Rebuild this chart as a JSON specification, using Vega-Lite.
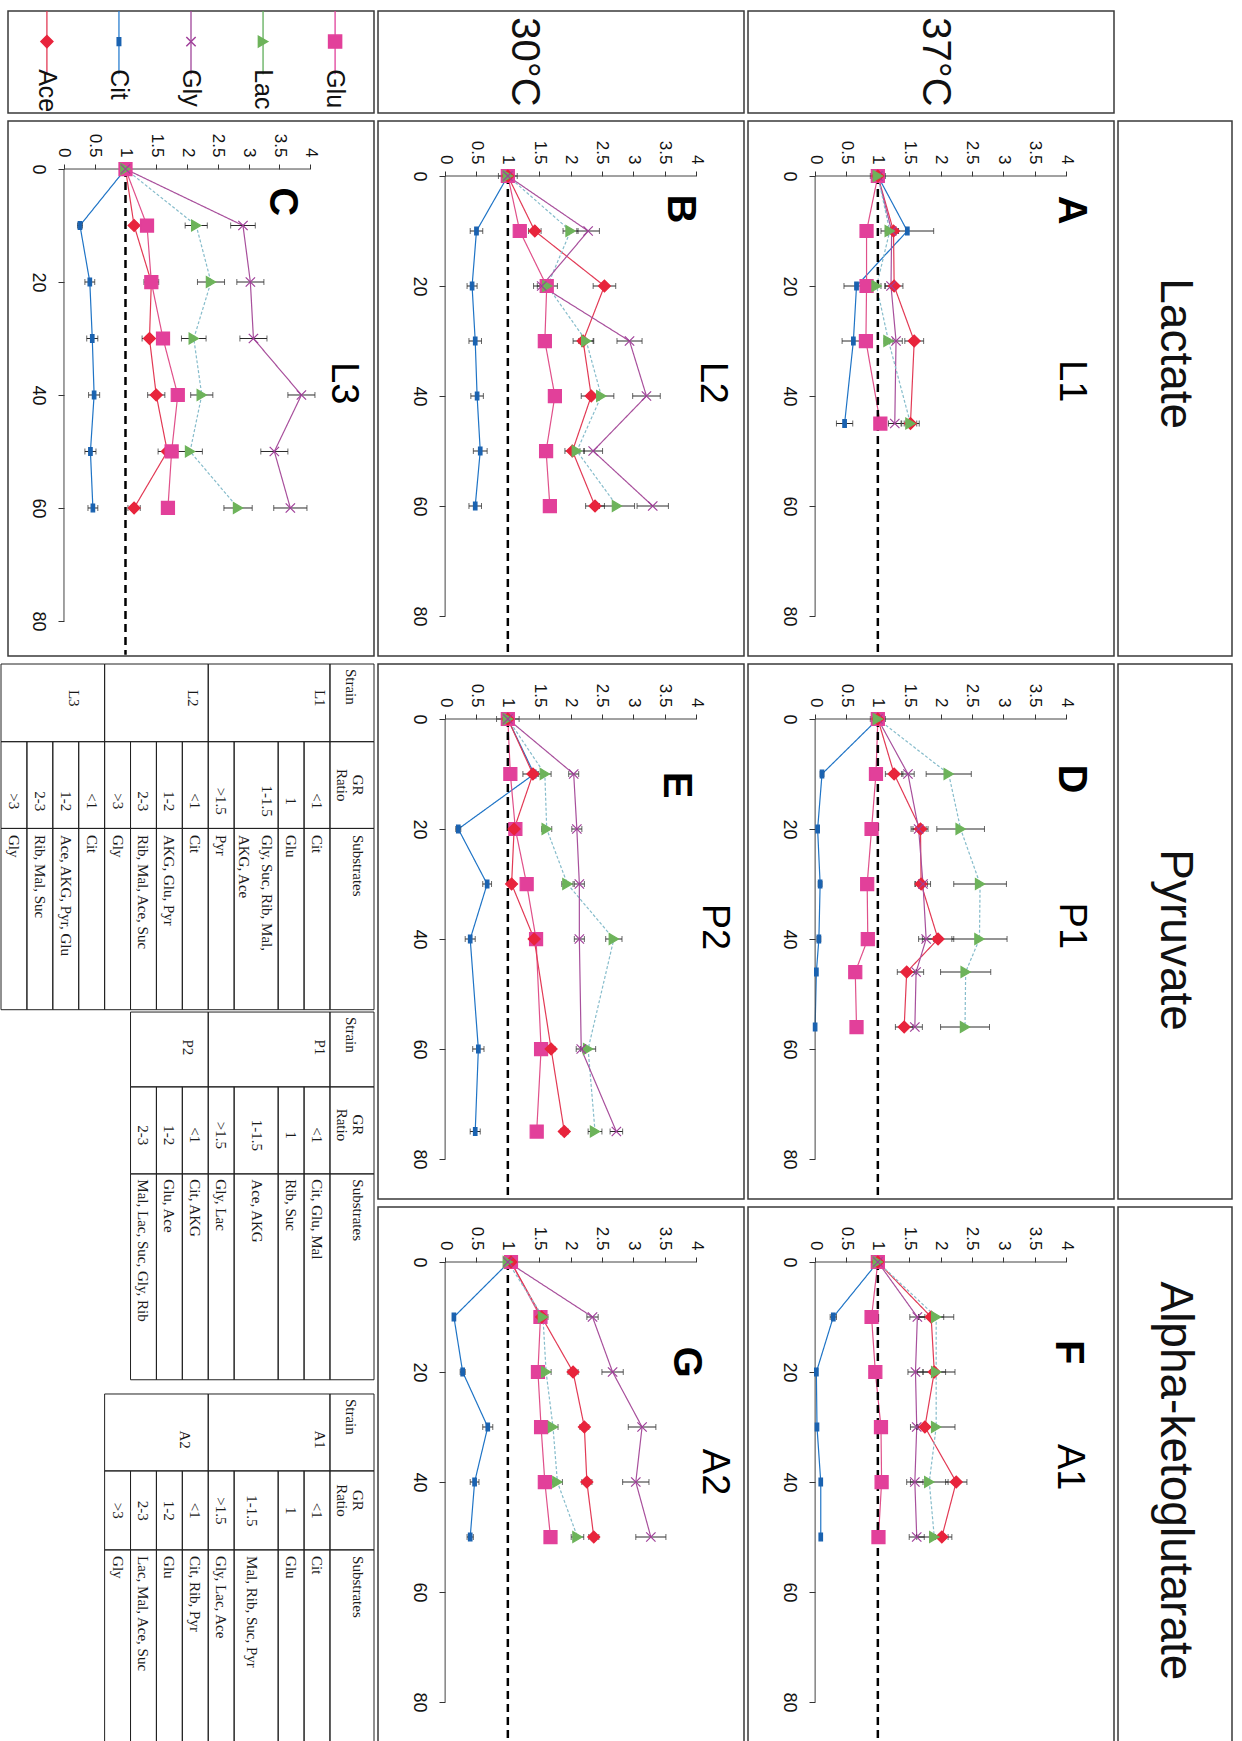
{
"$schema":"https://vega.github.io/schema/vega-lite/v6.json",
"background":"white",
"padding":{"left":0,"top":9,"right":0,"bottom":0},
"bounds":"flush",
"columns":4,
"spacing":{"row":8,"column":4},
"datasets":{
"series":[
{"p":"A","s":"Cit","t":0,"v":1.00,"e":0.08},{"p":"A","s":"Cit","t":10,"v":1.47,"e":0.42},{"p":"A","s":"Cit","t":20,"v":0.66,"e":0.20},{"p":"A","s":"Cit","t":30,"v":0.61,"e":0.18},{"p":"A","s":"Cit","t":45,"v":0.47,"e":0.13},
{"p":"A","s":"Glu","t":0,"v":1.00,"e":0.04},{"p":"A","s":"Glu","t":10,"v":0.82,"e":0.05},{"p":"A","s":"Glu","t":20,"v":0.82,"e":0.05},{"p":"A","s":"Glu","t":30,"v":0.81,"e":0.05},{"p":"A","s":"Glu","t":45,"v":1.04,"e":0.06},
{"p":"A","s":"Ace","t":0,"v":1.00,"e":0.12},{"p":"A","s":"Ace","t":10,"v":1.25,"e":0.08},{"p":"A","s":"Ace","t":20,"v":1.26,"e":0.14},{"p":"A","s":"Ace","t":30,"v":1.58,"e":0.15},{"p":"A","s":"Ace","t":45,"v":1.52,"e":0.14},
{"p":"A","s":"Gly","t":0,"v":1.00,"e":0.10},{"p":"A","s":"Gly","t":10,"v":1.22,"e":0.10},{"p":"A","s":"Gly","t":20,"v":1.21,"e":0.10},{"p":"A","s":"Gly","t":30,"v":1.29,"e":0.10},{"p":"A","s":"Gly","t":45,"v":1.27,"e":0.10},
{"p":"A","s":"Lac","t":0,"v":1.00,"e":0.06},{"p":"A","s":"Lac","t":10,"v":1.19,"e":0.06},{"p":"A","s":"Lac","t":20,"v":0.98,"e":0.07},{"p":"A","s":"Lac","t":30,"v":1.17,"e":0.07},{"p":"A","s":"Lac","t":45,"v":1.52,"e":0.10},
{"p":"B","s":"Cit","t":0,"v":1.00,"e":0.05},{"p":"B","s":"Cit","t":10,"v":0.50,"e":0.10},{"p":"B","s":"Cit","t":20,"v":0.43,"e":0.08},{"p":"B","s":"Cit","t":30,"v":0.48,"e":0.10},{"p":"B","s":"Cit","t":40,"v":0.51,"e":0.10},{"p":"B","s":"Cit","t":50,"v":0.56,"e":0.11},{"p":"B","s":"Cit","t":60,"v":0.48,"e":0.10},
{"p":"B","s":"Glu","t":0,"v":1.00,"e":0.04},{"p":"B","s":"Glu","t":10,"v":1.19,"e":0.04},{"p":"B","s":"Glu","t":20,"v":1.62,"e":0.05},{"p":"B","s":"Glu","t":30,"v":1.59,"e":0.04},{"p":"B","s":"Glu","t":40,"v":1.75,"e":0.04},{"p":"B","s":"Glu","t":50,"v":1.61,"e":0.04},{"p":"B","s":"Glu","t":60,"v":1.67,"e":0.04},
{"p":"B","s":"Ace","t":0,"v":1.00,"e":0.05},{"p":"B","s":"Ace","t":10,"v":1.43,"e":0.10},{"p":"B","s":"Ace","t":20,"v":2.54,"e":0.18},{"p":"B","s":"Ace","t":30,"v":2.20,"e":0.16},{"p":"B","s":"Ace","t":40,"v":2.33,"e":0.16},{"p":"B","s":"Ace","t":50,"v":2.03,"e":0.12},{"p":"B","s":"Ace","t":60,"v":2.39,"e":0.15},
{"p":"B","s":"Lac","t":0,"v":1.00,"e":0.08},{"p":"B","s":"Lac","t":10,"v":2.00,"e":0.12},{"p":"B","s":"Lac","t":20,"v":1.63,"e":0.16},{"p":"B","s":"Lac","t":30,"v":2.25,"e":0.12},{"p":"B","s":"Lac","t":40,"v":2.49,"e":0.20},{"p":"B","s":"Lac","t":50,"v":2.10,"e":0.12},{"p":"B","s":"Lac","t":60,"v":2.74,"e":0.28},
{"p":"B","s":"Gly","t":0,"v":1.00,"e":0.15},{"p":"B","s":"Gly","t":10,"v":2.28,"e":0.18},{"p":"B","s":"Gly","t":20,"v":1.54,"e":0.13},{"p":"B","s":"Gly","t":30,"v":2.94,"e":0.20},{"p":"B","s":"Gly","t":40,"v":3.21,"e":0.22},{"p":"B","s":"Gly","t":50,"v":2.36,"e":0.15},{"p":"B","s":"Gly","t":60,"v":3.31,"e":0.25},
{"p":"C","s":"Cit","t":0,"v":1.00,"e":0.05},{"p":"C","s":"Cit","t":10,"v":0.26,"e":0.04},{"p":"C","s":"Cit","t":20,"v":0.42,"e":0.08},{"p":"C","s":"Cit","t":30,"v":0.46,"e":0.09},{"p":"C","s":"Cit","t":40,"v":0.49,"e":0.09},{"p":"C","s":"Cit","t":50,"v":0.43,"e":0.09},{"p":"C","s":"Cit","t":60,"v":0.47,"e":0.08},
{"p":"C","s":"Ace","t":0,"v":1.00,"e":0.08},{"p":"C","s":"Ace","t":10,"v":1.14,"e":0.05},{"p":"C","s":"Ace","t":20,"v":1.42,"e":0.12},{"p":"C","s":"Ace","t":30,"v":1.39,"e":0.12},{"p":"C","s":"Ace","t":40,"v":1.50,"e":0.14},{"p":"C","s":"Ace","t":50,"v":1.68,"e":0.15},{"p":"C","s":"Ace","t":60,"v":1.14,"e":0.10},
{"p":"C","s":"Glu","t":0,"v":1.00,"e":0.04},{"p":"C","s":"Glu","t":10,"v":1.35,"e":0.05},{"p":"C","s":"Glu","t":20,"v":1.42,"e":0.05},{"p":"C","s":"Glu","t":30,"v":1.61,"e":0.05},{"p":"C","s":"Glu","t":40,"v":1.85,"e":0.05},{"p":"C","s":"Glu","t":50,"v":1.75,"e":0.05},{"p":"C","s":"Glu","t":60,"v":1.69,"e":0.05},
{"p":"C","s":"Lac","t":0,"v":1.00,"e":0.05},{"p":"C","s":"Lac","t":10,"v":2.15,"e":0.18},{"p":"C","s":"Lac","t":20,"v":2.39,"e":0.22},{"p":"C","s":"Lac","t":30,"v":2.11,"e":0.20},{"p":"C","s":"Lac","t":40,"v":2.24,"e":0.18},{"p":"C","s":"Lac","t":50,"v":2.05,"e":0.20},{"p":"C","s":"Lac","t":60,"v":2.83,"e":0.23},
{"p":"C","s":"Gly","t":0,"v":1.00,"e":0.05},{"p":"C","s":"Gly","t":10,"v":2.91,"e":0.20},{"p":"C","s":"Gly","t":20,"v":3.03,"e":0.22},{"p":"C","s":"Gly","t":30,"v":3.08,"e":0.22},{"p":"C","s":"Gly","t":40,"v":3.86,"e":0.22},{"p":"C","s":"Gly","t":50,"v":3.42,"e":0.22},{"p":"C","s":"Gly","t":60,"v":3.68,"e":0.27},
{"p":"D","s":"Cit","t":0,"v":1.00,"e":0.12},{"p":"D","s":"Cit","t":10,"v":0.11,"e":0.03},{"p":"D","s":"Cit","t":20,"v":0.04,"e":0.02},{"p":"D","s":"Cit","t":30,"v":0.08,"e":0.03},{"p":"D","s":"Cit","t":40,"v":0.06,"e":0.03},{"p":"D","s":"Cit","t":46,"v":0.02,"e":0.01},{"p":"D","s":"Cit","t":56,"v":0.00,"e":0.01},
{"p":"D","s":"Glu","t":0,"v":1.00,"e":0.05},{"p":"D","s":"Glu","t":10,"v":0.97,"e":0.04},{"p":"D","s":"Glu","t":20,"v":0.90,"e":0.04},{"p":"D","s":"Glu","t":30,"v":0.83,"e":0.04},{"p":"D","s":"Glu","t":40,"v":0.84,"e":0.04},{"p":"D","s":"Glu","t":46,"v":0.64,"e":0.04},{"p":"D","s":"Glu","t":56,"v":0.66,"e":0.04},
{"p":"D","s":"Ace","t":0,"v":1.00,"e":0.05},{"p":"D","s":"Ace","t":10,"v":1.26,"e":0.14},{"p":"D","s":"Ace","t":20,"v":1.68,"e":0.12},{"p":"D","s":"Ace","t":30,"v":1.69,"e":0.10},{"p":"D","s":"Ace","t":40,"v":1.96,"e":0.25},{"p":"D","s":"Ace","t":46,"v":1.46,"e":0.15},{"p":"D","s":"Ace","t":56,"v":1.42,"e":0.14},
{"p":"D","s":"Gly","t":0,"v":1.00,"e":0.10},{"p":"D","s":"Gly","t":10,"v":1.48,"e":0.10},{"p":"D","s":"Gly","t":20,"v":1.65,"e":0.12},{"p":"D","s":"Gly","t":30,"v":1.72,"e":0.12},{"p":"D","s":"Gly","t":40,"v":1.77,"e":0.12},{"p":"D","s":"Gly","t":46,"v":1.61,"e":0.12},{"p":"D","s":"Gly","t":56,"v":1.59,"e":0.12},
{"p":"D","s":"Lac","t":0,"v":1.00,"e":0.05},{"p":"D","s":"Lac","t":10,"v":2.13,"e":0.36},{"p":"D","s":"Lac","t":20,"v":2.32,"e":0.38},{"p":"D","s":"Lac","t":30,"v":2.63,"e":0.42},{"p":"D","s":"Lac","t":40,"v":2.62,"e":0.44},{"p":"D","s":"Lac","t":46,"v":2.40,"e":0.40},{"p":"D","s":"Lac","t":56,"v":2.39,"e":0.39},
{"p":"E","s":"Cit","t":0,"v":1.00,"e":0.06},{"p":"E","s":"Cit","t":10,"v":1.42,"e":0.05},{"p":"E","s":"Cit","t":20,"v":0.21,"e":0.04},{"p":"E","s":"Cit","t":30,"v":0.67,"e":0.07},{"p":"E","s":"Cit","t":40,"v":0.40,"e":0.08},{"p":"E","s":"Cit","t":60,"v":0.53,"e":0.09},{"p":"E","s":"Cit","t":75,"v":0.48,"e":0.08},
{"p":"E","s":"Glu","t":0,"v":1.00,"e":0.04},{"p":"E","s":"Glu","t":10,"v":1.04,"e":0.04},{"p":"E","s":"Glu","t":20,"v":1.12,"e":0.05},{"p":"E","s":"Glu","t":30,"v":1.30,"e":0.04},{"p":"E","s":"Glu","t":40,"v":1.45,"e":0.05},{"p":"E","s":"Glu","t":60,"v":1.53,"e":0.05},{"p":"E","s":"Glu","t":75,"v":1.46,"e":0.05},
{"p":"E","s":"Ace","t":0,"v":1.00,"e":0.18},{"p":"E","s":"Ace","t":10,"v":1.40,"e":0.16},{"p":"E","s":"Ace","t":20,"v":1.10,"e":0.05},{"p":"E","s":"Ace","t":30,"v":1.06,"e":0.05},{"p":"E","s":"Ace","t":40,"v":1.42,"e":0.05},{"p":"E","s":"Ace","t":60,"v":1.69,"e":0.06},{"p":"E","s":"Ace","t":75,"v":1.90,"e":0.06},
{"p":"E","s":"Lac","t":0,"v":1.00,"e":0.05},{"p":"E","s":"Lac","t":10,"v":1.59,"e":0.10},{"p":"E","s":"Lac","t":20,"v":1.62,"e":0.08},{"p":"E","s":"Lac","t":30,"v":1.95,"e":0.09},{"p":"E","s":"Lac","t":40,"v":2.69,"e":0.13},{"p":"E","s":"Lac","t":60,"v":2.28,"e":0.12},{"p":"E","s":"Lac","t":75,"v":2.39,"e":0.11},
{"p":"E","s":"Gly","t":0,"v":1.00,"e":0.05},{"p":"E","s":"Gly","t":10,"v":2.05,"e":0.08},{"p":"E","s":"Gly","t":20,"v":2.10,"e":0.08},{"p":"E","s":"Gly","t":30,"v":2.14,"e":0.08},{"p":"E","s":"Gly","t":40,"v":2.14,"e":0.08},{"p":"E","s":"Gly","t":60,"v":2.17,"e":0.08},{"p":"E","s":"Gly","t":75,"v":2.73,"e":0.10},
{"p":"F","s":"Cit","t":0,"v":1.00,"e":0.10},{"p":"F","s":"Cit","t":10,"v":0.29,"e":0.05},{"p":"F","s":"Cit","t":20,"v":0.02,"e":0.01},{"p":"F","s":"Cit","t":30,"v":0.03,"e":0.01},{"p":"F","s":"Cit","t":40,"v":0.09,"e":0.01},{"p":"F","s":"Cit","t":50,"v":0.09,"e":0.01},
{"p":"F","s":"Glu","t":0,"v":1.00,"e":0.03},{"p":"F","s":"Glu","t":10,"v":0.90,"e":0.04},{"p":"F","s":"Glu","t":20,"v":0.96,"e":0.03},{"p":"F","s":"Glu","t":30,"v":1.05,"e":0.03},{"p":"F","s":"Glu","t":40,"v":1.06,"e":0.03},{"p":"F","s":"Glu","t":50,"v":1.01,"e":0.04},
{"p":"F","s":"Ace","t":0,"v":1.00,"e":0.05},{"p":"F","s":"Ace","t":10,"v":1.85,"e":0.20},{"p":"F","s":"Ace","t":20,"v":1.90,"e":0.18},{"p":"F","s":"Ace","t":30,"v":1.75,"e":0.13},{"p":"F","s":"Ace","t":40,"v":2.25,"e":0.17},{"p":"F","s":"Ace","t":50,"v":2.02,"e":0.10},
{"p":"F","s":"Lac","t":0,"v":1.00,"e":0.05},{"p":"F","s":"Lac","t":10,"v":1.93,"e":0.28},{"p":"F","s":"Lac","t":20,"v":1.93,"e":0.30},{"p":"F","s":"Lac","t":30,"v":1.93,"e":0.30},{"p":"F","s":"Lac","t":40,"v":1.82,"e":0.30},{"p":"F","s":"Lac","t":50,"v":1.90,"e":0.28},
{"p":"F","s":"Gly","t":0,"v":1.00,"e":0.05},{"p":"F","s":"Gly","t":10,"v":1.63,"e":0.12},{"p":"F","s":"Gly","t":20,"v":1.60,"e":0.12},{"p":"F","s":"Gly","t":30,"v":1.62,"e":0.10},{"p":"F","s":"Gly","t":40,"v":1.59,"e":0.13},{"p":"F","s":"Gly","t":50,"v":1.62,"e":0.12},
{"p":"G","s":"Cit","t":0,"v":1.02,"e":0.05},{"p":"G","s":"Cit","t":10,"v":0.14,"e":0.02},{"p":"G","s":"Cit","t":20,"v":0.28,"e":0.04},{"p":"G","s":"Cit","t":30,"v":0.68,"e":0.08},{"p":"G","s":"Cit","t":40,"v":0.47,"e":0.07},{"p":"G","s":"Cit","t":50,"v":0.40,"e":0.05},
{"p":"G","s":"Glu","t":0,"v":1.05,"e":0.03},{"p":"G","s":"Glu","t":10,"v":1.52,"e":0.05},{"p":"G","s":"Glu","t":20,"v":1.48,"e":0.05},{"p":"G","s":"Glu","t":30,"v":1.53,"e":0.05},{"p":"G","s":"Glu","t":40,"v":1.59,"e":0.05},{"p":"G","s":"Glu","t":50,"v":1.68,"e":0.04},
{"p":"G","s":"Ace","t":0,"v":1.05,"e":0.05},{"p":"G","s":"Ace","t":10,"v":1.54,"e":0.08},{"p":"G","s":"Ace","t":20,"v":2.04,"e":0.08},{"p":"G","s":"Ace","t":30,"v":2.22,"e":0.07},{"p":"G","s":"Ace","t":40,"v":2.26,"e":0.08},{"p":"G","s":"Ace","t":50,"v":2.37,"e":0.08},
{"p":"G","s":"Lac","t":0,"v":1.00,"e":0.05},{"p":"G","s":"Lac","t":10,"v":1.56,"e":0.08},{"p":"G","s":"Lac","t":20,"v":1.61,"e":0.08},{"p":"G","s":"Lac","t":30,"v":1.72,"e":0.08},{"p":"G","s":"Lac","t":40,"v":1.79,"e":0.08},{"p":"G","s":"Lac","t":50,"v":2.11,"e":0.10},
{"p":"G","s":"Gly","t":0,"v":1.00,"e":0.05},{"p":"G","s":"Gly","t":10,"v":2.35,"e":0.09},{"p":"G","s":"Gly","t":20,"v":2.67,"e":0.17},{"p":"G","s":"Gly","t":30,"v":3.14,"e":0.22},{"p":"G","s":"Gly","t":40,"v":3.04,"e":0.21},{"p":"G","s":"Gly","t":50,"v":3.28,"e":0.24}
],
"panels":[
{"p":"A","letter":"A","strain":"L1"},{"p":"B","letter":"B","strain":"L2"},{"p":"C","letter":"C","strain":"L3"},{"p":"D","letter":"D","strain":"P1"},{"p":"E","letter":"E","strain":"P2"},{"p":"F","letter":"F","strain":"A1"},{"p":"G","letter":"G","strain":"A2"}
],
"legend":[{"s":"Ace"},{"s":"Cit"},{"s":"Gly"},{"s":"Lac"},{"s":"Glu"}],
"trows":[
{"tb":"L","s0":0,"s1":1.7,"sc":0.62,"t1":3.0,"t2":6.35,"t3":13.35,"tr":4.68,"ts":6.6,"ratio":["GR","Ratio"],"subs":"Substrates"},
{"tb":"L","s0":1.7,"s1":2.7,"sc":2.2,"t1":3.0,"t2":6.35,"t3":13.35,"tr":5.3,"ts":6.6,"ratio":"<1","subs":"Cit"},
{"tb":"L","s0":2.7,"s1":3.7,"sc":3.2,"t1":3.0,"t2":6.35,"t3":13.35,"tr":5.3,"ts":6.6,"ratio":"1","subs":"Glu"},
{"tb":"L","s0":3.7,"s1":5.4,"sc":4.13,"t1":3.0,"t2":6.35,"t3":13.35,"tr":5.3,"ts":6.6,"ratio":"1-1.5","subs":["Gly, Suc, Rib, Mal,","AKG, Ace"]},
{"tb":"L","s0":5.4,"s1":6.4,"sc":5.9,"t1":3.0,"t2":6.35,"t3":13.35,"tr":5.3,"ts":6.6,"ratio":">1.5","subs":"Pyr"},
{"tb":"L","s0":6.4,"s1":7.4,"sc":6.9,"t1":3.0,"t2":6.35,"t3":13.35,"tr":5.3,"ts":6.6,"ratio":"<1","subs":"Cit"},
{"tb":"L","s0":7.4,"s1":8.4,"sc":7.9,"t1":3.0,"t2":6.35,"t3":13.35,"tr":5.3,"ts":6.6,"ratio":"1-2","subs":"AKG, Glu, Pyr"},
{"tb":"L","s0":8.4,"s1":9.4,"sc":8.9,"t1":3.0,"t2":6.35,"t3":13.35,"tr":5.3,"ts":6.6,"ratio":"2-3","subs":"Rib, Mal, Ace, Suc"},
{"tb":"L","s0":9.4,"s1":10.4,"sc":9.9,"t1":3.0,"t2":6.35,"t3":13.35,"tr":5.3,"ts":6.6,"ratio":">3","subs":"Gly"},
{"tb":"L","s0":10.4,"s1":11.4,"sc":10.9,"t1":3.0,"t2":6.35,"t3":13.35,"tr":5.3,"ts":6.6,"ratio":"<1","subs":"Cit"},
{"tb":"L","s0":11.4,"s1":12.4,"sc":11.9,"t1":3.0,"t2":6.35,"t3":13.35,"tr":5.3,"ts":6.6,"ratio":"1-2","subs":"Ace, AKG, Pyr, Glu"},
{"tb":"L","s0":12.4,"s1":13.4,"sc":12.9,"t1":3.0,"t2":6.35,"t3":13.35,"tr":5.3,"ts":6.6,"ratio":"2-3","subs":"Rib, Mal, Suc"},
{"tb":"L","s0":13.4,"s1":14.4,"sc":13.9,"t1":3.0,"t2":6.35,"t3":13.35,"tr":5.3,"ts":6.6,"ratio":">3","subs":"Gly"},
{"tb":"P","s0":0,"s1":1.7,"sc":0.62,"t1":16.33,"t2":19.69,"t3":27.64,"tr":17.8,"ts":19.9,"ratio":["GR","Ratio"],"subs":"Substrates"},
{"tb":"P","s0":1.7,"s1":2.7,"sc":2.2,"t1":16.33,"t2":19.69,"t3":27.64,"tr":18.2,"ts":19.9,"ratio":"<1","subs":"Cit, Glu, Mal"},
{"tb":"P","s0":2.7,"s1":3.7,"sc":3.2,"t1":16.33,"t2":19.69,"t3":27.64,"tr":18.2,"ts":19.9,"ratio":"1","subs":"Rib, Suc"},
{"tb":"P","s0":3.7,"s1":5.4,"sc":4.5,"t1":16.33,"t2":19.69,"t3":27.64,"tr":18.2,"ts":19.9,"ratio":"1-1.5","subs":"Ace, AKG"},
{"tb":"P","s0":5.4,"s1":6.4,"sc":5.9,"t1":16.33,"t2":19.69,"t3":27.64,"tr":18.2,"ts":19.9,"ratio":">1.5","subs":"Gly, Lac"},
{"tb":"P","s0":6.4,"s1":7.4,"sc":6.9,"t1":16.33,"t2":19.69,"t3":27.64,"tr":18.2,"ts":19.9,"ratio":"<1","subs":"Cit, AKG"},
{"tb":"P","s0":7.4,"s1":8.4,"sc":7.9,"t1":16.33,"t2":19.69,"t3":27.64,"tr":18.2,"ts":19.9,"ratio":"1-2","subs":"Glu, Ace"},
{"tb":"P","s0":8.4,"s1":9.4,"sc":8.9,"t1":16.33,"t2":19.69,"t3":27.64,"tr":18.2,"ts":19.9,"ratio":"2-3","subs":"Mal, Lac, Suc, Gly, Rib"},
{"tb":"A","s0":0,"s1":1.7,"sc":0.62,"t1":31.16,"t2":34.21,"t3":41.66,"tr":32.3,"ts":34.45,"ratio":["GR","Ratio"],"subs":"Substrates"},
{"tb":"A","s0":1.7,"s1":2.7,"sc":2.2,"t1":31.16,"t2":34.21,"t3":41.66,"tr":32.7,"ts":34.45,"ratio":"<1","subs":"Cit"},
{"tb":"A","s0":2.7,"s1":3.7,"sc":3.2,"t1":31.16,"t2":34.21,"t3":41.66,"tr":32.7,"ts":34.45,"ratio":"1","subs":"Glu"},
{"tb":"A","s0":3.7,"s1":5.4,"sc":4.7,"t1":31.16,"t2":34.21,"t3":41.66,"tr":32.7,"ts":34.45,"ratio":"1-1.5","subs":"Mal, Rib, Suc, Pyr"},
{"tb":"A","s0":5.4,"s1":6.4,"sc":5.9,"t1":31.16,"t2":34.21,"t3":41.66,"tr":32.7,"ts":34.45,"ratio":">1.5","subs":"Gly, Lac, Ace"},
{"tb":"A","s0":6.4,"s1":7.4,"sc":6.9,"t1":31.16,"t2":34.21,"t3":41.66,"tr":32.7,"ts":34.45,"ratio":"<1","subs":"Cit, Rib, Pyr"},
{"tb":"A","s0":7.4,"s1":8.4,"sc":7.9,"t1":31.16,"t2":34.21,"t3":41.66,"tr":32.7,"ts":34.45,"ratio":"1-2","subs":"Glu"},
{"tb":"A","s0":8.4,"s1":9.4,"sc":8.9,"t1":31.16,"t2":34.21,"t3":41.66,"tr":32.7,"ts":34.45,"ratio":"2-3","subs":"Lac, Mal, Ace, Suc"},
{"tb":"A","s0":9.4,"s1":10.4,"sc":9.9,"t1":31.16,"t2":34.21,"t3":41.66,"tr":32.7,"ts":34.45,"ratio":">3","subs":"Gly"}
],
"tgroups":[
{"tb":"L","s0":0,"s1":1.7,"t0":0,"t1":3.0,"sl":0.87,"tl":0.19,"strain":"Strain"},
{"tb":"L","s0":1.7,"s1":6.4,"t0":0,"t1":3.0,"sl":2.1,"tl":1.0,"strain":"L1"},
{"tb":"L","s0":6.4,"s1":10.4,"t0":0,"t1":3.0,"sl":7.0,"tl":1.0,"strain":"L2"},
{"tb":"L","s0":10.4,"s1":14.4,"t0":0,"t1":3.0,"sl":11.6,"tl":1.0,"strain":"L3"},
{"tb":"P","s0":0,"s1":1.7,"t0":13.44,"t1":16.33,"sl":0.87,"tl":13.63,"strain":"Strain"},
{"tb":"P","s0":1.7,"s1":6.4,"t0":13.44,"t1":16.33,"sl":2.1,"tl":14.5,"strain":"P1"},
{"tb":"P","s0":6.4,"s1":9.4,"t0":13.44,"t1":16.33,"sl":7.2,"tl":14.5,"strain":"P2"},
{"tb":"A","s0":0,"s1":1.7,"t0":28.19,"t1":31.16,"sl":0.87,"tl":28.38,"strain":"Strain"},
{"tb":"A","s0":1.7,"s1":6.4,"t0":28.19,"t1":31.16,"sl":2.1,"tl":29.6,"strain":"A1"},
{"tb":"A","s0":6.4,"s1":10.4,"t0":28.19,"t1":31.16,"sl":7.3,"tl":29.6,"strain":"A2"}
]
},
"concat":[
 {"width":366,"height":102,"data":{"name":"legend"},
  "encoding":{"x":{"field":"s","type":"nominal","scale":{"type":"point","domain":["Ace","Cit","Gly","Lac","Glu"],"padding":0.54},"axis":null}},
  "layer":[
   {"mark":{"type":"rule","strokeWidth":1.3},"encoding":{"y":{"datum":0,"type":"quantitative","scale":{"domain":[0,1],"nice":false,"zero":false,"reverse":true},"axis":null},"y2":{"datum":0.62},"color":{"field":"s","type":"nominal","scale":{"domain":["Ace","Cit","Gly","Lac","Glu"],"range":["#e23a55","#2a7fd0","#a0449a","#5fae5a","#e0409a"]},"legend":null}}},
   {"mark":{"type":"point","filled":true,"opacity":1,"strokeWidth":1.5},"encoding":{"y":{"datum":0.3,"type":"quantitative"},
     "shape":{"field":"s","type":"nominal","scale":{"domain":["Ace","Cit","Gly","Lac","Glu"],"range":["diamond","M-0.45,-1L0.45,-1L0.45,1L-0.45,1Z","M-1,-1L1,1M-1,1L1,-1","triangle-right","square"]},"legend":null},
     "fill":{"field":"s","type":"nominal","scale":{"domain":["Ace","Cit","Gly","Lac","Glu"],"range":["#e8243c","#1a62b0","#a0409a","#6db35a","#e2409a"]},"legend":null},
     "stroke":{"field":"s","type":"nominal","scale":{"domain":["Ace","Cit","Gly","Lac","Glu"],"range":["#e8243c","#1a62b0","#a0409a","#6db35a","#e2409a"]},"legend":null},
     "size":{"field":"s","type":"nominal","scale":{"type":"point","domain":["Cit","Gly","Lac","Ace","Glu"],"range":[60,170],"padding":0},"legend":null}}},
   {"mark":{"type":"text","angle":90,"align":"left","baseline":"middle","fontSize":25,"color":"#111"},"encoding":{"y":{"datum":0.57,"type":"quantitative"},"text":{"field":"s"}}}
  ],
  "resolve":{"scale":{"color":"independent","stroke":"independent","fill":"independent"}}},
 {"width":366,"height":102,"data":{"values":[{"lab":"30°C"}]},"mark":{"type":"text","angle":90,"fontSize":40,"align":"center","baseline":"middle","color":"#111"},"encoding":{"text":{"field":"lab"},"x":{"datum":0.4,"type":"quantitative","scale":{"domain":[0,1]},"axis":null},"y":{"datum":0.5,"type":"quantitative","scale":{"domain":[0,1]},"axis":null}}},
 {"width":366,"height":102,"data":{"values":[{"lab":"37°C"}]},"mark":{"type":"text","angle":90,"fontSize":40,"align":"center","baseline":"middle","color":"#111"},"encoding":{"text":{"field":"lab"},"x":{"datum":0.51,"type":"quantitative","scale":{"domain":[0,1]},"axis":null},"y":{"datum":0.5,"type":"quantitative","scale":{"domain":[0,1]},"axis":null}}},
 {"width":114,"height":102,"view":{"stroke":null},"data":{"values":[{"lab":""}]},"mark":{"type":"text"},"encoding":{"text":{"field":"lab"}}},

 {"width":366,"height":535,
  "layer":[
   {"data":{"name":"series"},"transform":[{"filter":"datum.p==='C'"}],"mark":{"type":"line","strokeWidth":1.2},"encoding":{
     "x":{"field":"v","type":"quantitative","scale":{"domain":[-0.91,5.04],"nice":false,"zero":false},"axis":{"orient":"top","offset":-48,"values":[0,0.5,1,1.5,2,2.5,3,3.5,4],"format":".1~f","domain":false,"grid":false,"tickSize":5,"tickColor":"#333","labelAngle":90,"labelAlign":"right","labelBaseline":"middle","labelFontSize":17,"labelPadding":7,"labelColor":"#111","labelFlush":false,"labelOverlap":false,"title":null}},
     "y":{"field":"t","type":"quantitative","scale":{"domain":[-8.5,86.2],"nice":false,"zero":false,"reverse":true},"axis":{"orient":"left","offset":-56,"values":[0,20,40,60,80],"format":"d","domain":false,"grid":false,"tickSize":6,"tickColor":"#333","labelAngle":90,"labelAlign":"center","labelBaseline":"top","labelFontSize":18,"labelPadding":12,"labelColor":"#111","labelFlush":false,"labelOverlap":false,"title":null}},
     "color":{"field":"s","type":"nominal","scale":{"domain":["Ace","Cit","Gly","Lac","Glu"],"range":["#e23a55","#1f74c6","#a8509c","#86bccb","#e0508a"]},"legend":null},"strokeDash":{"field":"s","type":"nominal","scale":{"domain":["Ace","Cit","Gly","Lac","Glu"],"range":[[1,0],[1,0],[1,0],[3,2],[1,0]]},"legend":null},"order":{"field":"t","type":"quantitative"}}},
   {"data":{"name":"series"},"transform":[{"filter":"datum.p==='C'"}],"mark":{"type":"errorbar","ticks":{"size":6},"color":"#2a2a2a","thickness":1},"encoding":{"x":{"field":"v","type":"quantitative"},"y":{"field":"t","type":"quantitative"},"xError":{"field":"e"}}},
   {"data":{"name":"panels"},"transform":[{"filter":"datum.p==='C'"}],"mark":{"type":"rule","color":"#444","strokeWidth":1},"encoding":{"x":{"datum":0,"type":"quantitative"},"x2":{"datum":4},"y":{"datum":0,"type":"quantitative"}}},
   {"data":{"name":"panels"},"transform":[{"filter":"datum.p==='C'"}],"mark":{"type":"rule","color":"#444","strokeWidth":1},"encoding":{"x":{"datum":0,"type":"quantitative"},"y":{"datum":0,"type":"quantitative"},"y2":{"datum":80}}},
   {"data":{"name":"panels"},"transform":[{"filter":"datum.p==='C'"}],"mark":{"type":"rule","color":"#000","strokeWidth":2.5,"strokeDash":[8,5]},"encoding":{"x":{"datum":1,"type":"quantitative"},"y":{"datum":0,"type":"quantitative"},"y2":{"datum":86}}},
   {"data":{"name":"series"},"transform":[{"filter":"datum.p==='C'"}],"mark":{"type":"point","filled":true,"opacity":1,"strokeWidth":1.2},"encoding":{"x":{"field":"v","type":"quantitative"},"y":{"field":"t","type":"quantitative"},
     "shape":{"field":"s","type":"nominal","scale":{"domain":["Ace","Cit","Gly","Lac","Glu"],"range":["diamond","M-0.45,-1L0.45,-1L0.45,1L-0.45,1Z","M-1,-1L1,1M-1,1L1,-1","triangle-right","square"]},"legend":null},
     "fill":{"field":"s","type":"nominal","scale":{"domain":["Ace","Cit","Gly","Lac","Glu"],"range":["#e8243c","#1a62b0","#a0409a","#6db35a","#e2409a"]},"legend":null},
     "stroke":{"field":"s","type":"nominal","scale":{"domain":["Ace","Cit","Gly","Lac","Glu"],"range":["#e8243c","#1a62b0","#a0409a","#6db35a","#e2409a"]},"legend":null},
     "size":{"field":"s","type":"nominal","scale":{"type":"point","domain":["Cit","Gly","Lac","Ace","Glu"],"range":[20,90],"padding":0},"legend":null}}},
   {"data":{"name":"panels"},"transform":[{"filter":"datum.p==='C'"}],"mark":{"type":"text","angle":90,"fontSize":40,"fontWeight":"bold","align":"center","baseline":"middle","color":"#000"},"encoding":{"x":{"datum":3.54,"type":"quantitative"},"y":{"datum":5.8,"type":"quantitative"},"text":{"field":"letter"}}},
   {"data":{"name":"panels"},"transform":[{"filter":"datum.p==='C'"}],"mark":{"type":"text","angle":90,"fontSize":38,"align":"center","baseline":"middle","color":"#000"},"encoding":{"x":{"datum":4.54,"type":"quantitative"},"y":{"datum":37.9,"type":"quantitative"},"text":{"field":"strain"}}}
  ],
  "resolve":{"scale":{"color":"independent","stroke":"independent","fill":"independent"}}},
 {"width":366,"height":535,
  "layer":[
   {"data":{"name":"series"},"transform":[{"filter":"datum.p==='B'"}],"mark":{"type":"line","strokeWidth":1.2},"encoding":{
     "x":{"field":"v","type":"quantitative","scale":{"domain":[-1.07,4.765],"nice":false,"zero":false},"axis":{"orient":"top","offset":-55,"values":[0,0.5,1,1.5,2,2.5,3,3.5,4],"format":".1~f","domain":false,"grid":false,"tickSize":5,"tickColor":"#333","labelAngle":90,"labelAlign":"right","labelBaseline":"middle","labelFontSize":17,"labelPadding":7,"labelColor":"#111","labelFlush":false,"labelOverlap":false,"title":null}},
     "y":{"field":"t","type":"quantitative","scale":{"domain":[-10,87.27],"nice":false,"zero":false,"reverse":true},"axis":{"orient":"left","offset":-67,"values":[0,20,40,60,80],"format":"d","domain":false,"grid":false,"tickSize":6,"tickColor":"#333","labelAngle":90,"labelAlign":"center","labelBaseline":"top","labelFontSize":18,"labelPadding":12,"labelColor":"#111","labelFlush":false,"labelOverlap":false,"title":null}},
     "color":{"field":"s","type":"nominal","scale":{"domain":["Ace","Cit","Gly","Lac","Glu"],"range":["#e23a55","#1f74c6","#a8509c","#86bccb","#e0508a"]},"legend":null},"strokeDash":{"field":"s","type":"nominal","scale":{"domain":["Ace","Cit","Gly","Lac","Glu"],"range":[[1,0],[1,0],[1,0],[3,2],[1,0]]},"legend":null},"order":{"field":"t","type":"quantitative"}}},
   {"data":{"name":"series"},"transform":[{"filter":"datum.p==='B'"}],"mark":{"type":"errorbar","ticks":{"size":6},"color":"#2a2a2a","thickness":1},"encoding":{"x":{"field":"v","type":"quantitative"},"y":{"field":"t","type":"quantitative"},"xError":{"field":"e"}}},
   {"data":{"name":"panels"},"transform":[{"filter":"datum.p==='B'"}],"mark":{"type":"rule","color":"#444","strokeWidth":1},"encoding":{"x":{"datum":0,"type":"quantitative"},"x2":{"datum":4},"y":{"datum":0,"type":"quantitative"}}},
   {"data":{"name":"panels"},"transform":[{"filter":"datum.p==='B'"}],"mark":{"type":"rule","color":"#444","strokeWidth":1},"encoding":{"x":{"datum":0,"type":"quantitative"},"y":{"datum":0,"type":"quantitative"},"y2":{"datum":80}}},
   {"data":{"name":"panels"},"transform":[{"filter":"datum.p==='B'"}],"mark":{"type":"rule","color":"#000","strokeWidth":2.5,"strokeDash":[8,5]},"encoding":{"x":{"datum":1,"type":"quantitative"},"y":{"datum":0,"type":"quantitative"},"y2":{"datum":87}}},
   {"data":{"name":"series"},"transform":[{"filter":"datum.p==='B'"}],"mark":{"type":"point","filled":true,"opacity":1,"strokeWidth":1.2},"encoding":{"x":{"field":"v","type":"quantitative"},"y":{"field":"t","type":"quantitative"},
     "shape":{"field":"s","type":"nominal","scale":{"domain":["Ace","Cit","Gly","Lac","Glu"],"range":["diamond","M-0.45,-1L0.45,-1L0.45,1L-0.45,1Z","M-1,-1L1,1M-1,1L1,-1","triangle-right","square"]},"legend":null},
     "fill":{"field":"s","type":"nominal","scale":{"domain":["Ace","Cit","Gly","Lac","Glu"],"range":["#e8243c","#1a62b0","#a0409a","#6db35a","#e2409a"]},"legend":null},
     "stroke":{"field":"s","type":"nominal","scale":{"domain":["Ace","Cit","Gly","Lac","Glu"],"range":["#e8243c","#1a62b0","#a0409a","#6db35a","#e2409a"]},"legend":null},
     "size":{"field":"s","type":"nominal","scale":{"type":"point","domain":["Cit","Gly","Lac","Ace","Glu"],"range":[20,90],"padding":0},"legend":null}}},
   {"data":{"name":"panels"},"transform":[{"filter":"datum.p==='B'"}],"mark":{"type":"text","angle":90,"fontSize":40,"fontWeight":"bold","align":"center","baseline":"middle","color":"#000"},"encoding":{"x":{"datum":3.75,"type":"quantitative"},"y":{"datum":6.0,"type":"quantitative"},"text":{"field":"letter"}}},
   {"data":{"name":"panels"},"transform":[{"filter":"datum.p==='B'"}],"mark":{"type":"text","angle":90,"fontSize":38,"align":"center","baseline":"middle","color":"#000"},"encoding":{"x":{"datum":4.26,"type":"quantitative"},"y":{"datum":37.6,"type":"quantitative"},"text":{"field":"strain"}}}
  ],
  "resolve":{"scale":{"color":"independent","stroke":"independent","fill":"independent"}}},
 {"width":366,"height":535,
  "layer":[
   {"data":{"name":"series"},"transform":[{"filter":"datum.p==='A'"}],"mark":{"type":"line","strokeWidth":1.2},"encoding":{
     "x":{"field":"v","type":"quantitative","scale":{"domain":[-1.07,4.765],"nice":false,"zero":false},"axis":{"orient":"top","offset":-55,"values":[0,0.5,1,1.5,2,2.5,3,3.5,4],"format":".1~f","domain":false,"grid":false,"tickSize":5,"tickColor":"#333","labelAngle":90,"labelAlign":"right","labelBaseline":"middle","labelFontSize":17,"labelPadding":7,"labelColor":"#111","labelFlush":false,"labelOverlap":false,"title":null}},
     "y":{"field":"t","type":"quantitative","scale":{"domain":[-10,87.27],"nice":false,"zero":false,"reverse":true},"axis":{"orient":"left","offset":-67,"values":[0,20,40,60,80],"format":"d","domain":false,"grid":false,"tickSize":6,"tickColor":"#333","labelAngle":90,"labelAlign":"center","labelBaseline":"top","labelFontSize":18,"labelPadding":12,"labelColor":"#111","labelFlush":false,"labelOverlap":false,"title":null}},
     "color":{"field":"s","type":"nominal","scale":{"domain":["Ace","Cit","Gly","Lac","Glu"],"range":["#e23a55","#1f74c6","#a8509c","#86bccb","#e0508a"]},"legend":null},"strokeDash":{"field":"s","type":"nominal","scale":{"domain":["Ace","Cit","Gly","Lac","Glu"],"range":[[1,0],[1,0],[1,0],[3,2],[1,0]]},"legend":null},"order":{"field":"t","type":"quantitative"}}},
   {"data":{"name":"series"},"transform":[{"filter":"datum.p==='A'"}],"mark":{"type":"errorbar","ticks":{"size":6},"color":"#2a2a2a","thickness":1},"encoding":{"x":{"field":"v","type":"quantitative"},"y":{"field":"t","type":"quantitative"},"xError":{"field":"e"}}},
   {"data":{"name":"panels"},"transform":[{"filter":"datum.p==='A'"}],"mark":{"type":"rule","color":"#444","strokeWidth":1},"encoding":{"x":{"datum":0,"type":"quantitative"},"x2":{"datum":4},"y":{"datum":0,"type":"quantitative"}}},
   {"data":{"name":"panels"},"transform":[{"filter":"datum.p==='A'"}],"mark":{"type":"rule","color":"#444","strokeWidth":1},"encoding":{"x":{"datum":0,"type":"quantitative"},"y":{"datum":0,"type":"quantitative"},"y2":{"datum":80}}},
   {"data":{"name":"panels"},"transform":[{"filter":"datum.p==='A'"}],"mark":{"type":"rule","color":"#000","strokeWidth":2.5,"strokeDash":[8,5]},"encoding":{"x":{"datum":1,"type":"quantitative"},"y":{"datum":0,"type":"quantitative"},"y2":{"datum":87}}},
   {"data":{"name":"series"},"transform":[{"filter":"datum.p==='A'"}],"mark":{"type":"point","filled":true,"opacity":1,"strokeWidth":1.2},"encoding":{"x":{"field":"v","type":"quantitative"},"y":{"field":"t","type":"quantitative"},
     "shape":{"field":"s","type":"nominal","scale":{"domain":["Ace","Cit","Gly","Lac","Glu"],"range":["diamond","M-0.45,-1L0.45,-1L0.45,1L-0.45,1Z","M-1,-1L1,1M-1,1L1,-1","triangle-right","square"]},"legend":null},
     "fill":{"field":"s","type":"nominal","scale":{"domain":["Ace","Cit","Gly","Lac","Glu"],"range":["#e8243c","#1a62b0","#a0409a","#6db35a","#e2409a"]},"legend":null},
     "stroke":{"field":"s","type":"nominal","scale":{"domain":["Ace","Cit","Gly","Lac","Glu"],"range":["#e8243c","#1a62b0","#a0409a","#6db35a","#e2409a"]},"legend":null},
     "size":{"field":"s","type":"nominal","scale":{"type":"point","domain":["Cit","Gly","Lac","Ace","Glu"],"range":[20,90],"padding":0},"legend":null}}},
   {"data":{"name":"panels"},"transform":[{"filter":"datum.p==='A'"}],"mark":{"type":"text","angle":90,"fontSize":40,"fontWeight":"bold","align":"center","baseline":"middle","color":"#000"},"encoding":{"x":{"datum":4.08,"type":"quantitative"},"y":{"datum":6.2,"type":"quantitative"},"text":{"field":"letter"}}},
   {"data":{"name":"panels"},"transform":[{"filter":"datum.p==='A'"}],"mark":{"type":"text","angle":90,"fontSize":38,"align":"center","baseline":"middle","color":"#000"},"encoding":{"x":{"datum":4.08,"type":"quantitative"},"y":{"datum":37.3,"type":"quantitative"},"text":{"field":"strain"}}}
  ],
  "resolve":{"scale":{"color":"independent","stroke":"independent","fill":"independent"}}},
 {"width":114,"height":535,"data":{"values":[{"lab":"Lactate"}]},"mark":{"type":"text","angle":90,"fontSize":46,"align":"center","baseline":"middle","color":"#111"},"encoding":{"text":{"field":"lab"},"x":{"datum":0.5,"type":"quantitative","scale":{"domain":[0,1]},"axis":null},"y":{"datum":0.435,"type":"quantitative","scale":{"domain":[0,1],"reverse":true},"axis":null}}},

 {"width":366,"height":535,"view":{"stroke":null},
  "layer":[
   {"data":{"name":"trows"},"mark":{"type":"rect","filled":false,"color":"#222","strokeWidth":1},"encoding":{"x":{"field":"s0","type":"quantitative","scale":{"domain":[0,14.13],"nice":false,"zero":false,"reverse":true},"axis":null},"x2":{"field":"s1"},"y":{"field":"t1","type":"quantitative","scale":{"domain":[0,20.66],"nice":false,"zero":false,"reverse":true},"axis":null},"y2":{"field":"t2"}}},
   {"data":{"name":"trows"},"mark":{"type":"rect","filled":false,"color":"#222","strokeWidth":1},"encoding":{"x":{"field":"s0","type":"quantitative","scale":{"domain":[0,14.13],"nice":false,"zero":false,"reverse":true},"axis":null},"x2":{"field":"s1"},"y":{"field":"t2","type":"quantitative","scale":{"domain":[0,20.66],"nice":false,"zero":false,"reverse":true},"axis":null},"y2":{"field":"t3"}}},
   {"data":{"name":"tgroups"},"mark":{"type":"rect","filled":false,"color":"#222","strokeWidth":1},"encoding":{"x":{"field":"s0","type":"quantitative","scale":{"domain":[0,14.13],"nice":false,"zero":false,"reverse":true},"axis":null},"x2":{"field":"s1"},"y":{"field":"t0","type":"quantitative","scale":{"domain":[0,20.66],"nice":false,"zero":false,"reverse":true},"axis":null},"y2":{"field":"t1"}}},
   {"data":{"name":"trows"},"mark":{"type":"text","angle":90,"align":"center","baseline":"middle","font":"Liberation Serif","fontSize":15,"lineHeight":16,"color":"#1a1a1a"},"encoding":{"x":{"field":"sc","type":"quantitative","scale":{"domain":[0,14.13],"nice":false,"zero":false,"reverse":true},"axis":null},"y":{"field":"tr","type":"quantitative","scale":{"domain":[0,20.66],"nice":false,"zero":false,"reverse":true},"axis":null},"text":{"field":"ratio"}}},
   {"data":{"name":"trows"},"mark":{"type":"text","angle":90,"align":"left","baseline":"middle","font":"Liberation Serif","fontSize":15,"lineHeight":23,"color":"#1a1a1a"},"encoding":{"x":{"field":"sc","type":"quantitative","scale":{"domain":[0,14.13],"nice":false,"zero":false,"reverse":true},"axis":null},"y":{"field":"ts","type":"quantitative","scale":{"domain":[0,20.66],"nice":false,"zero":false,"reverse":true},"axis":null},"text":{"field":"subs"}}},
   {"data":{"name":"tgroups"},"mark":{"type":"text","angle":90,"align":"left","baseline":"middle","font":"Liberation Serif","fontSize":15,"color":"#1a1a1a"},"encoding":{"x":{"field":"sl","type":"quantitative","scale":{"domain":[0,14.13],"nice":false,"zero":false,"reverse":true},"axis":null},"y":{"field":"tl","type":"quantitative","scale":{"domain":[0,20.66],"nice":false,"zero":false,"reverse":true},"axis":null},"text":{"field":"strain"}}}
  ]},
 {"width":366,"height":535,
  "layer":[
   {"data":{"name":"series"},"transform":[{"filter":"datum.p==='E'"}],"mark":{"type":"line","strokeWidth":1.2},"encoding":{
     "x":{"field":"v","type":"quantitative","scale":{"domain":[-1.07,4.765],"nice":false,"zero":false},"axis":{"orient":"top","offset":-55,"values":[0,0.5,1,1.5,2,2.5,3,3.5,4],"format":".1~f","domain":false,"grid":false,"tickSize":5,"tickColor":"#333","labelAngle":90,"labelAlign":"right","labelBaseline":"middle","labelFontSize":17,"labelPadding":7,"labelColor":"#111","labelFlush":false,"labelOverlap":false,"title":null}},
     "y":{"field":"t","type":"quantitative","scale":{"domain":[-10,87.27],"nice":false,"zero":false,"reverse":true},"axis":{"orient":"left","offset":-67,"values":[0,20,40,60,80],"format":"d","domain":false,"grid":false,"tickSize":6,"tickColor":"#333","labelAngle":90,"labelAlign":"center","labelBaseline":"top","labelFontSize":18,"labelPadding":12,"labelColor":"#111","labelFlush":false,"labelOverlap":false,"title":null}},
     "color":{"field":"s","type":"nominal","scale":{"domain":["Ace","Cit","Gly","Lac","Glu"],"range":["#e23a55","#1f74c6","#a8509c","#86bccb","#e0508a"]},"legend":null},"strokeDash":{"field":"s","type":"nominal","scale":{"domain":["Ace","Cit","Gly","Lac","Glu"],"range":[[1,0],[1,0],[1,0],[3,2],[1,0]]},"legend":null},"order":{"field":"t","type":"quantitative"}}},
   {"data":{"name":"series"},"transform":[{"filter":"datum.p==='E'"}],"mark":{"type":"errorbar","ticks":{"size":6},"color":"#2a2a2a","thickness":1},"encoding":{"x":{"field":"v","type":"quantitative"},"y":{"field":"t","type":"quantitative"},"xError":{"field":"e"}}},
   {"data":{"name":"panels"},"transform":[{"filter":"datum.p==='E'"}],"mark":{"type":"rule","color":"#444","strokeWidth":1},"encoding":{"x":{"datum":0,"type":"quantitative"},"x2":{"datum":4},"y":{"datum":0,"type":"quantitative"}}},
   {"data":{"name":"panels"},"transform":[{"filter":"datum.p==='E'"}],"mark":{"type":"rule","color":"#444","strokeWidth":1},"encoding":{"x":{"datum":0,"type":"quantitative"},"y":{"datum":0,"type":"quantitative"},"y2":{"datum":80}}},
   {"data":{"name":"panels"},"transform":[{"filter":"datum.p==='E'"}],"mark":{"type":"rule","color":"#000","strokeWidth":2.5,"strokeDash":[8,5]},"encoding":{"x":{"datum":1,"type":"quantitative"},"y":{"datum":0,"type":"quantitative"},"y2":{"datum":87}}},
   {"data":{"name":"series"},"transform":[{"filter":"datum.p==='E'"}],"mark":{"type":"point","filled":true,"opacity":1,"strokeWidth":1.2},"encoding":{"x":{"field":"v","type":"quantitative"},"y":{"field":"t","type":"quantitative"},
     "shape":{"field":"s","type":"nominal","scale":{"domain":["Ace","Cit","Gly","Lac","Glu"],"range":["diamond","M-0.45,-1L0.45,-1L0.45,1L-0.45,1Z","M-1,-1L1,1M-1,1L1,-1","triangle-right","square"]},"legend":null},
     "fill":{"field":"s","type":"nominal","scale":{"domain":["Ace","Cit","Gly","Lac","Glu"],"range":["#e8243c","#1a62b0","#a0409a","#6db35a","#e2409a"]},"legend":null},
     "stroke":{"field":"s","type":"nominal","scale":{"domain":["Ace","Cit","Gly","Lac","Glu"],"range":["#e8243c","#1a62b0","#a0409a","#6db35a","#e2409a"]},"legend":null},
     "size":{"field":"s","type":"nominal","scale":{"type":"point","domain":["Cit","Gly","Lac","Ace","Glu"],"range":[20,90],"padding":0},"legend":null}}},
   {"data":{"name":"panels"},"transform":[{"filter":"datum.p==='E'"}],"mark":{"type":"text","angle":90,"fontSize":40,"fontWeight":"bold","align":"center","baseline":"middle","color":"#000"},"encoding":{"x":{"datum":3.68,"type":"quantitative"},"y":{"datum":12.0,"type":"quantitative"},"text":{"field":"letter"}}},
   {"data":{"name":"panels"},"transform":[{"filter":"datum.p==='E'"}],"mark":{"type":"text","angle":90,"fontSize":38,"align":"center","baseline":"middle","color":"#000"},"encoding":{"x":{"datum":4.29,"type":"quantitative"},"y":{"datum":37.8,"type":"quantitative"},"text":{"field":"strain"}}}
  ],
  "resolve":{"scale":{"color":"independent","stroke":"independent","fill":"independent"}}},
 {"width":366,"height":535,
  "layer":[
   {"data":{"name":"series"},"transform":[{"filter":"datum.p==='D'"}],"mark":{"type":"line","strokeWidth":1.2},"encoding":{
     "x":{"field":"v","type":"quantitative","scale":{"domain":[-1.07,4.765],"nice":false,"zero":false},"axis":{"orient":"top","offset":-55,"values":[0,0.5,1,1.5,2,2.5,3,3.5,4],"format":".1~f","domain":false,"grid":false,"tickSize":5,"tickColor":"#333","labelAngle":90,"labelAlign":"right","labelBaseline":"middle","labelFontSize":17,"labelPadding":7,"labelColor":"#111","labelFlush":false,"labelOverlap":false,"title":null}},
     "y":{"field":"t","type":"quantitative","scale":{"domain":[-10,87.27],"nice":false,"zero":false,"reverse":true},"axis":{"orient":"left","offset":-67,"values":[0,20,40,60,80],"format":"d","domain":false,"grid":false,"tickSize":6,"tickColor":"#333","labelAngle":90,"labelAlign":"center","labelBaseline":"top","labelFontSize":18,"labelPadding":12,"labelColor":"#111","labelFlush":false,"labelOverlap":false,"title":null}},
     "color":{"field":"s","type":"nominal","scale":{"domain":["Ace","Cit","Gly","Lac","Glu"],"range":["#e23a55","#1f74c6","#a8509c","#86bccb","#e0508a"]},"legend":null},"strokeDash":{"field":"s","type":"nominal","scale":{"domain":["Ace","Cit","Gly","Lac","Glu"],"range":[[1,0],[1,0],[1,0],[3,2],[1,0]]},"legend":null},"order":{"field":"t","type":"quantitative"}}},
   {"data":{"name":"series"},"transform":[{"filter":"datum.p==='D'"}],"mark":{"type":"errorbar","ticks":{"size":6},"color":"#2a2a2a","thickness":1},"encoding":{"x":{"field":"v","type":"quantitative"},"y":{"field":"t","type":"quantitative"},"xError":{"field":"e"}}},
   {"data":{"name":"panels"},"transform":[{"filter":"datum.p==='D'"}],"mark":{"type":"rule","color":"#444","strokeWidth":1},"encoding":{"x":{"datum":0,"type":"quantitative"},"x2":{"datum":4},"y":{"datum":0,"type":"quantitative"}}},
   {"data":{"name":"panels"},"transform":[{"filter":"datum.p==='D'"}],"mark":{"type":"rule","color":"#444","strokeWidth":1},"encoding":{"x":{"datum":0,"type":"quantitative"},"y":{"datum":0,"type":"quantitative"},"y2":{"datum":80}}},
   {"data":{"name":"panels"},"transform":[{"filter":"datum.p==='D'"}],"mark":{"type":"rule","color":"#000","strokeWidth":2.5,"strokeDash":[8,5]},"encoding":{"x":{"datum":1,"type":"quantitative"},"y":{"datum":0,"type":"quantitative"},"y2":{"datum":87}}},
   {"data":{"name":"series"},"transform":[{"filter":"datum.p==='D'"}],"mark":{"type":"point","filled":true,"opacity":1,"strokeWidth":1.2},"encoding":{"x":{"field":"v","type":"quantitative"},"y":{"field":"t","type":"quantitative"},
     "shape":{"field":"s","type":"nominal","scale":{"domain":["Ace","Cit","Gly","Lac","Glu"],"range":["diamond","M-0.45,-1L0.45,-1L0.45,1L-0.45,1Z","M-1,-1L1,1M-1,1L1,-1","triangle-right","square"]},"legend":null},
     "fill":{"field":"s","type":"nominal","scale":{"domain":["Ace","Cit","Gly","Lac","Glu"],"range":["#e8243c","#1a62b0","#a0409a","#6db35a","#e2409a"]},"legend":null},
     "stroke":{"field":"s","type":"nominal","scale":{"domain":["Ace","Cit","Gly","Lac","Glu"],"range":["#e8243c","#1a62b0","#a0409a","#6db35a","#e2409a"]},"legend":null},
     "size":{"field":"s","type":"nominal","scale":{"type":"point","domain":["Cit","Gly","Lac","Ace","Glu"],"range":[20,90],"padding":0},"legend":null}}},
   {"data":{"name":"panels"},"transform":[{"filter":"datum.p==='D'"}],"mark":{"type":"text","angle":90,"fontSize":40,"fontWeight":"bold","align":"center","baseline":"middle","color":"#000"},"encoding":{"x":{"datum":4.08,"type":"quantitative"},"y":{"datum":10.9,"type":"quantitative"},"text":{"field":"letter"}}},
   {"data":{"name":"panels"},"transform":[{"filter":"datum.p==='D'"}],"mark":{"type":"text","angle":90,"fontSize":38,"align":"center","baseline":"middle","color":"#000"},"encoding":{"x":{"datum":4.08,"type":"quantitative"},"y":{"datum":37.6,"type":"quantitative"},"text":{"field":"strain"}}}
  ],
  "resolve":{"scale":{"color":"independent","stroke":"independent","fill":"independent"}}},
 {"width":114,"height":535,"data":{"values":[{"lab":"Pyruvate"}]},"mark":{"type":"text","angle":90,"fontSize":46,"align":"center","baseline":"middle","color":"#111"},"encoding":{"text":{"field":"lab"},"x":{"datum":0.5,"type":"quantitative","scale":{"domain":[0,1]},"axis":null},"y":{"datum":0.516,"type":"quantitative","scale":{"domain":[0,1],"reverse":true},"axis":null}}},

 {"width":366,"height":535,"view":{"stroke":null},"data":{"values":[{"lab":""}]},"mark":{"type":"text"},"encoding":{"text":{"field":"lab"}}},
 {"width":366,"height":535,
  "layer":[
   {"data":{"name":"series"},"transform":[{"filter":"datum.p==='G'"}],"mark":{"type":"line","strokeWidth":1.2},"encoding":{
     "x":{"field":"v","type":"quantitative","scale":{"domain":[-1.07,4.765],"nice":false,"zero":false},"axis":{"orient":"top","offset":-55,"values":[0,0.5,1,1.5,2,2.5,3,3.5,4],"format":".1~f","domain":false,"grid":false,"tickSize":5,"tickColor":"#333","labelAngle":90,"labelAlign":"right","labelBaseline":"middle","labelFontSize":17,"labelPadding":7,"labelColor":"#111","labelFlush":false,"labelOverlap":false,"title":null}},
     "y":{"field":"t","type":"quantitative","scale":{"domain":[-10,87.27],"nice":false,"zero":false,"reverse":true},"axis":{"orient":"left","offset":-67,"values":[0,20,40,60,80],"format":"d","domain":false,"grid":false,"tickSize":6,"tickColor":"#333","labelAngle":90,"labelAlign":"center","labelBaseline":"top","labelFontSize":18,"labelPadding":12,"labelColor":"#111","labelFlush":false,"labelOverlap":false,"title":null}},
     "color":{"field":"s","type":"nominal","scale":{"domain":["Ace","Cit","Gly","Lac","Glu"],"range":["#e23a55","#1f74c6","#a8509c","#86bccb","#e0508a"]},"legend":null},"strokeDash":{"field":"s","type":"nominal","scale":{"domain":["Ace","Cit","Gly","Lac","Glu"],"range":[[1,0],[1,0],[1,0],[3,2],[1,0]]},"legend":null},"order":{"field":"t","type":"quantitative"}}},
   {"data":{"name":"series"},"transform":[{"filter":"datum.p==='G'"}],"mark":{"type":"errorbar","ticks":{"size":6},"color":"#2a2a2a","thickness":1},"encoding":{"x":{"field":"v","type":"quantitative"},"y":{"field":"t","type":"quantitative"},"xError":{"field":"e"}}},
   {"data":{"name":"panels"},"transform":[{"filter":"datum.p==='G'"}],"mark":{"type":"rule","color":"#444","strokeWidth":1},"encoding":{"x":{"datum":0,"type":"quantitative"},"x2":{"datum":4},"y":{"datum":0,"type":"quantitative"}}},
   {"data":{"name":"panels"},"transform":[{"filter":"datum.p==='G'"}],"mark":{"type":"rule","color":"#444","strokeWidth":1},"encoding":{"x":{"datum":0,"type":"quantitative"},"y":{"datum":0,"type":"quantitative"},"y2":{"datum":80}}},
   {"data":{"name":"panels"},"transform":[{"filter":"datum.p==='G'"}],"mark":{"type":"rule","color":"#000","strokeWidth":2.5,"strokeDash":[8,5]},"encoding":{"x":{"datum":1,"type":"quantitative"},"y":{"datum":0,"type":"quantitative"},"y2":{"datum":87}}},
   {"data":{"name":"series"},"transform":[{"filter":"datum.p==='G'"}],"mark":{"type":"point","filled":true,"opacity":1,"strokeWidth":1.2},"encoding":{"x":{"field":"v","type":"quantitative"},"y":{"field":"t","type":"quantitative"},
     "shape":{"field":"s","type":"nominal","scale":{"domain":["Ace","Cit","Gly","Lac","Glu"],"range":["diamond","M-0.45,-1L0.45,-1L0.45,1L-0.45,1Z","M-1,-1L1,1M-1,1L1,-1","triangle-right","square"]},"legend":null},
     "fill":{"field":"s","type":"nominal","scale":{"domain":["Ace","Cit","Gly","Lac","Glu"],"range":["#e8243c","#1a62b0","#a0409a","#6db35a","#e2409a"]},"legend":null},
     "stroke":{"field":"s","type":"nominal","scale":{"domain":["Ace","Cit","Gly","Lac","Glu"],"range":["#e8243c","#1a62b0","#a0409a","#6db35a","#e2409a"]},"legend":null},
     "size":{"field":"s","type":"nominal","scale":{"type":"point","domain":["Cit","Gly","Lac","Ace","Glu"],"range":[20,90],"padding":0},"legend":null}}},
   {"data":{"name":"panels"},"transform":[{"filter":"datum.p==='G'"}],"mark":{"type":"text","angle":90,"fontSize":40,"fontWeight":"bold","align":"center","baseline":"middle","color":"#000"},"encoding":{"x":{"datum":3.84,"type":"quantitative"},"y":{"datum":18.2,"type":"quantitative"},"text":{"field":"letter"}}},
   {"data":{"name":"panels"},"transform":[{"filter":"datum.p==='G'"}],"mark":{"type":"text","angle":90,"fontSize":38,"align":"center","baseline":"middle","color":"#000"},"encoding":{"x":{"datum":4.29,"type":"quantitative"},"y":{"datum":38.2,"type":"quantitative"},"text":{"field":"strain"}}}
  ],
  "resolve":{"scale":{"color":"independent","stroke":"independent","fill":"independent"}}},
 {"width":366,"height":535,
  "layer":[
   {"data":{"name":"series"},"transform":[{"filter":"datum.p==='F'"}],"mark":{"type":"line","strokeWidth":1.2},"encoding":{
     "x":{"field":"v","type":"quantitative","scale":{"domain":[-1.07,4.765],"nice":false,"zero":false},"axis":{"orient":"top","offset":-55,"values":[0,0.5,1,1.5,2,2.5,3,3.5,4],"format":".1~f","domain":false,"grid":false,"tickSize":5,"tickColor":"#333","labelAngle":90,"labelAlign":"right","labelBaseline":"middle","labelFontSize":17,"labelPadding":7,"labelColor":"#111","labelFlush":false,"labelOverlap":false,"title":null}},
     "y":{"field":"t","type":"quantitative","scale":{"domain":[-10,87.27],"nice":false,"zero":false,"reverse":true},"axis":{"orient":"left","offset":-67,"values":[0,20,40,60,80],"format":"d","domain":false,"grid":false,"tickSize":6,"tickColor":"#333","labelAngle":90,"labelAlign":"center","labelBaseline":"top","labelFontSize":18,"labelPadding":12,"labelColor":"#111","labelFlush":false,"labelOverlap":false,"title":null}},
     "color":{"field":"s","type":"nominal","scale":{"domain":["Ace","Cit","Gly","Lac","Glu"],"range":["#e23a55","#1f74c6","#a8509c","#86bccb","#e0508a"]},"legend":null},"strokeDash":{"field":"s","type":"nominal","scale":{"domain":["Ace","Cit","Gly","Lac","Glu"],"range":[[1,0],[1,0],[1,0],[3,2],[1,0]]},"legend":null},"order":{"field":"t","type":"quantitative"}}},
   {"data":{"name":"series"},"transform":[{"filter":"datum.p==='F'"}],"mark":{"type":"errorbar","ticks":{"size":6},"color":"#2a2a2a","thickness":1},"encoding":{"x":{"field":"v","type":"quantitative"},"y":{"field":"t","type":"quantitative"},"xError":{"field":"e"}}},
   {"data":{"name":"panels"},"transform":[{"filter":"datum.p==='F'"}],"mark":{"type":"rule","color":"#444","strokeWidth":1},"encoding":{"x":{"datum":0,"type":"quantitative"},"x2":{"datum":4},"y":{"datum":0,"type":"quantitative"}}},
   {"data":{"name":"panels"},"transform":[{"filter":"datum.p==='F'"}],"mark":{"type":"rule","color":"#444","strokeWidth":1},"encoding":{"x":{"datum":0,"type":"quantitative"},"y":{"datum":0,"type":"quantitative"},"y2":{"datum":80}}},
   {"data":{"name":"panels"},"transform":[{"filter":"datum.p==='F'"}],"mark":{"type":"rule","color":"#000","strokeWidth":2.5,"strokeDash":[8,5]},"encoding":{"x":{"datum":1,"type":"quantitative"},"y":{"datum":0,"type":"quantitative"},"y2":{"datum":87}}},
   {"data":{"name":"series"},"transform":[{"filter":"datum.p==='F'"}],"mark":{"type":"point","filled":true,"opacity":1,"strokeWidth":1.2},"encoding":{"x":{"field":"v","type":"quantitative"},"y":{"field":"t","type":"quantitative"},
     "shape":{"field":"s","type":"nominal","scale":{"domain":["Ace","Cit","Gly","Lac","Glu"],"range":["diamond","M-0.45,-1L0.45,-1L0.45,1L-0.45,1Z","M-1,-1L1,1M-1,1L1,-1","triangle-right","square"]},"legend":null},
     "fill":{"field":"s","type":"nominal","scale":{"domain":["Ace","Cit","Gly","Lac","Glu"],"range":["#e8243c","#1a62b0","#a0409a","#6db35a","#e2409a"]},"legend":null},
     "stroke":{"field":"s","type":"nominal","scale":{"domain":["Ace","Cit","Gly","Lac","Glu"],"range":["#e8243c","#1a62b0","#a0409a","#6db35a","#e2409a"]},"legend":null},
     "size":{"field":"s","type":"nominal","scale":{"type":"point","domain":["Cit","Gly","Lac","Ace","Glu"],"range":[20,90],"padding":0},"legend":null}}},
   {"data":{"name":"panels"},"transform":[{"filter":"datum.p==='F'"}],"mark":{"type":"text","angle":90,"fontSize":40,"fontWeight":"bold","align":"center","baseline":"middle","color":"#000"},"encoding":{"x":{"datum":4.03,"type":"quantitative"},"y":{"datum":16.4,"type":"quantitative"},"text":{"field":"letter"}}},
   {"data":{"name":"panels"},"transform":[{"filter":"datum.p==='F'"}],"mark":{"type":"text","angle":90,"fontSize":38,"align":"center","baseline":"middle","color":"#000"},"encoding":{"x":{"datum":4.05,"type":"quantitative"},"y":{"datum":37.3,"type":"quantitative"},"text":{"field":"strain"}}}
  ],
  "resolve":{"scale":{"color":"independent","stroke":"independent","fill":"independent"}}},
 {"width":114,"height":535,"data":{"values":[{"lab":"Alpha-ketoglutarate"}]},"mark":{"type":"text","angle":90,"fontSize":46,"align":"center","baseline":"middle","color":"#111"},"encoding":{"text":{"field":"lab"},"x":{"datum":0.5,"type":"quantitative","scale":{"domain":[0,1]},"axis":null},"y":{"datum":0.512,"type":"quantitative","scale":{"domain":[0,1],"reverse":true},"axis":null}}}
],
"config":{
 "font":"Liberation Sans",
 "view":{"stroke":"#3a3a3a","strokeWidth":1.5},
 "text":{"font":"Liberation Sans"},
 "axis":{"labelFont":"Liberation Sans"}
}
}
